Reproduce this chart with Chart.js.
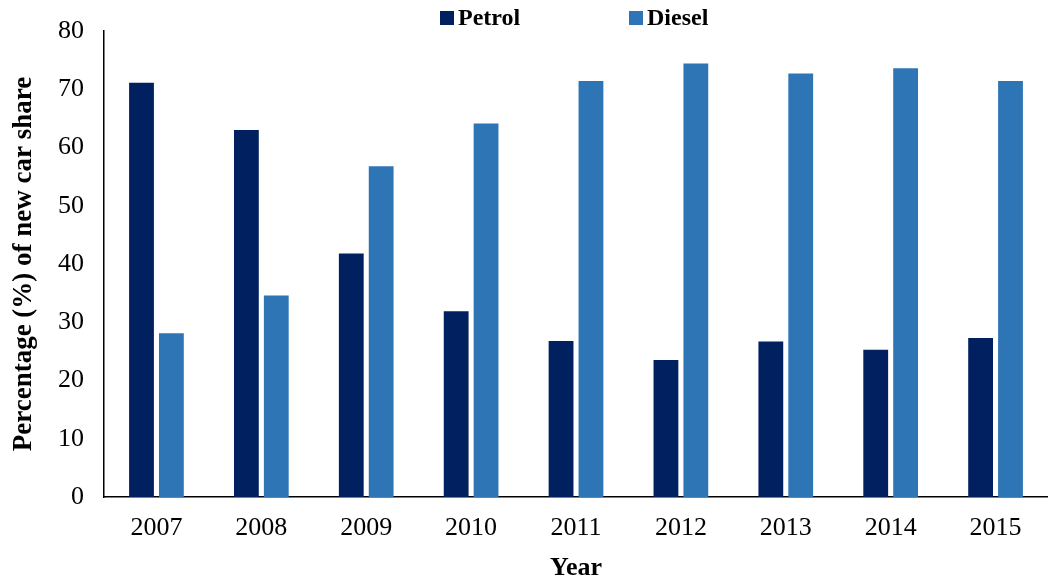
<!DOCTYPE html>
<html>
<head>
<meta charset="utf-8">
<script src="https://cdn.jsdelivr.net/npm/chart.js@4/dist/chart.umd.min.js"></script>
<style>
  body { margin: 0; background: #fff; }
  #wrap { position: relative; width: 1048px; height: 581px; }
  #legend {
    position: absolute; top: 4px; left: 0; width: 100%;
    font: bold 24px "Liberation Serif", "Times New Roman", serif;
    color: #000;
  }
  .item { position: absolute; top: 0; display: flex; align-items: center; }
  .box { width: 14px; height: 14px; margin-right: 4px; }
</style>
</head>
<body>
<div id="wrap">
  <canvas id="shareChart" width="1048" height="581"></canvas>
  <div id="legend"></div>
</div>
<script>
// New car share by fuel type
const years = ['2007', '2008', '2009', '2010', '2011', '2012', '2013', '2014', '2015'];
const petrol = [71.1, 63.0, 41.8, 31.9, 26.8, 23.5, 26.7, 25.3, 27.3];
const diesel = [28.1, 34.6, 56.8, 64.1, 71.4, 74.4, 72.7, 73.6, 71.4];
const seriesNames = ['Petrol', 'Diesel'];
const seriesColors = ['#002060', '#2E75B6'];
const legendLeft = [440, 629];

const serif = '"Liberation Serif", "Times New Roman", serif';

const ctx = document.getElementById('shareChart').getContext('2d');
const chart = new Chart(ctx, {
  type: 'bar',
  data: {
    labels: years,
    datasets: [petrol, diesel].map((values, i) => ({
      label: seriesNames[i],
      data: values,
      backgroundColor: seriesColors[i],
      barPercentage: 0.83,
      categoryPercentage: 0.57
    }))
  },
  options: {
    responsive: false,
    animation: false,
    layout: { padding: { top: 31, right: 0, left: 11, bottom: 0 } },
    plugins: {
      legend: { display: false },
      tooltip: { enabled: false }
    },
    scales: {
      x: {
        grid: { display: false, drawTicks: false },
        border: { display: true, color: '#000', width: 1.5 },
        ticks: { color: '#000', font: { family: serif, size: 26, lineHeight: 1 }, padding: 18 },
        title: {
          display: true, text: 'Year', color: '#000',
          font: { family: serif, size: 26, weight: 'bold', lineHeight: 1 },
          padding: { top: -4, bottom: 0 }
        }
      },
      y: {
        min: 0, max: 80,
        grid: { display: false, drawTicks: false },
        border: { display: true, color: '#000', width: 1.5 },
        ticks: { stepSize: 10, color: '#000', font: { family: serif, size: 26, lineHeight: 0.8 }, padding: 20 },
        title: {
          display: true, text: 'Percentage (%) of new car share', color: '#000',
          font: { family: serif, size: 27, weight: 'bold', lineHeight: 1 },
          padding: { top: 0, bottom: 0 }
        }
      }
    }
  }
});

// Legend above the plot, built from the datasets
const legend = document.getElementById('legend');
chart.data.datasets.forEach((ds, i) => {
  const item = document.createElement('div');
  item.className = 'item';
  item.style.left = legendLeft[i] + 'px';
  item.innerHTML = '<span class="box" style="background:' + ds.backgroundColor + '"></span>' + ds.label;
  legend.appendChild(item);
});
</script>
</body>
</html>
